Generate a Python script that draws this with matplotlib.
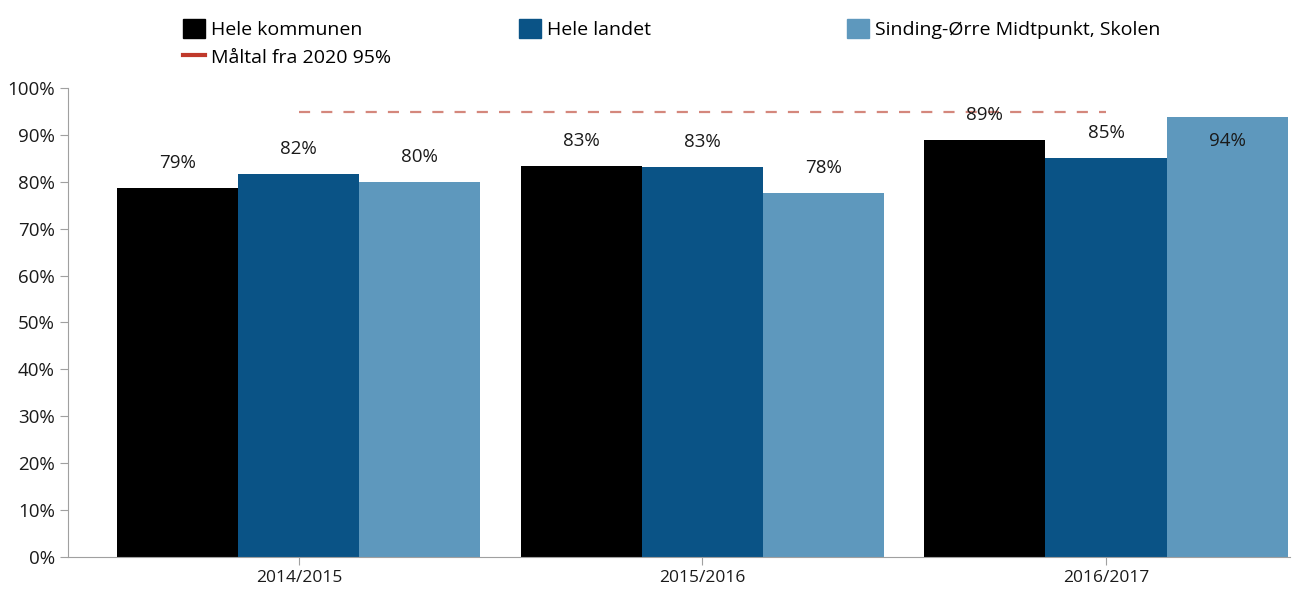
import matplotlib
matplotlib.use('Agg')
import matplotlib.pyplot as plt
from matplotlib.patches import Patch
from matplotlib.lines import Line2D
import numpy as np

years = ['2014/2015', '2015/2016', '2016/2017']
series_names = ['Hele kommunen', 'Hele landet', 'Sinding-Ørre Midtpunkt, Skolen']
kommunen = [78.6, 83.3, 88.9]
landet = [81.6, 83.2, 85.1]
skolen = [80.0, 77.6, 93.8]
target = 95
target_label = 'Måltal fra 2020 95%'
colors = ['#000000', '#0a5386', '#5e98bd']

plt.rcParams['font.family'] = ['Open Sans', 'DejaVu Sans']
plt.rcParams['font.size'] = 13.5

fig = plt.figure(figsize=(13.07, 5.95), dpi=100)
ax = fig.add_axes([0.052, 0.064, 0.935, 0.788])

x = np.arange(len(years))
w = 0.3
for i, (vals, c) in enumerate(zip([kommunen, landet, skolen], colors)):
    pos = x + (i - 1) * w
    ax.bar(pos, vals, width=w, color=c)
    for p, v in zip(pos, vals):
        label = '%d%%' % round(v)
        if v > 92:
            ax.text(p, v - 5, label, ha='center', va='center', color='#1a1a1a')
        else:
            ax.text(p, v + 5.4, label, ha='center', va='center', color='#1a1a1a')

ax.plot([x[0], x[-1]], [target, target], color='#d4877c', lw=1.6,
        dashes=(5, 5))

ax.set_ylim(0, 100)
ax.set_xlim(-0.572, 2.456)
ax.set_yticks(range(0, 101, 10))
ax.set_yticklabels(['%d%%' % t for t in range(0, 101, 10)])
ax.set_xticks(x)
ax.set_xticklabels(years, fontsize=12.5)
for s in ['top', 'right']:
    ax.spines[s].set_visible(False)
for s in ['left', 'bottom']:
    ax.spines[s].set_color('#a0a0a0')
ax.tick_params(axis='both', colors='#a0a0a0', labelcolor='#1a1a1a', length=6)

# legend, placed by hand in three columns
h_k = Patch(color=colors[0])
h_t = Line2D([], [], color='#c0392b', lw=3)
h_l = Patch(color=colors[1])
h_s = Patch(color=colors[2])
common = dict(frameon=False, handlelength=1.15, handleheight=1.15, handletextpad=0.3,
              labelspacing=0.42, borderpad=0, loc='upper left', fontsize=14)
fig.legend([h_k, h_t], [series_names[0], target_label],
           bbox_to_anchor=(173 / 1307, 1 - 9 / 595), **common)
fig.legend([h_l], [series_names[1]], bbox_to_anchor=(509 / 1307, 1 - 9 / 595), **common)
fig.legend([h_s], [series_names[2]], bbox_to_anchor=(837 / 1307, 1 - 9 / 595), **common)

fig.savefig('out.png', dpi=100)
